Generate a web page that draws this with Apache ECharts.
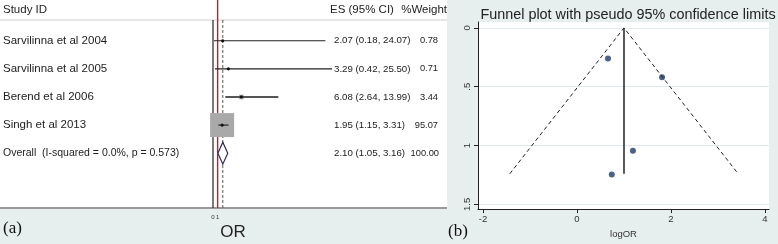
<!DOCTYPE html>
<html>
<head>
<meta charset="utf-8">
<script src="https://cdn.jsdelivr.net/npm/echarts@6/dist/echarts.min.js"></script>
<style>
  html, body { margin: 0; padding: 0; background: #e7efee; }
  #chart { width: 778px; height: 244px; }
</style>
</head>
<body>
<div id="chart"></div>
<script>
// forest plot (a)
const studies = ['Sarvilinna et al 2004', 'Sarvilinna et al 2005', 'Berend et al 2006', 'Singh et al 2013']
const studyES = [2.07, 3.29, 6.08, 1.95]
const studyLow = [0.18, 0.42, 2.64, 1.15]
const studyHigh = [24.07, 25.50, 13.99, 3.31]
const studyWeight = [0.78, 0.71, 3.44, 95.07]
const overallLabel = 'Overall  (I-squared = 0.0%, p = 0.573)'
const overallCI = [2.10, 1.05, 3.16]
const overallWeight = 100.00
const nullValue = 1
const forestTicks = [0, 1]

// funnel plot (b)
const funnelLogOR = [0.66, 1.81, 1.19, 0.74]
const funnelSE = [0.26, 0.42, 1.045, 1.245]
const pooledLogOR = 1.0
const funnelMaxSE = 1.24
const limitLow = -1.43
const limitHigh = 3.43
const funnelXTicks = [-2, 0, 2, 4]
const funnelYTicks = [0, 0.5, 1, 1.5]

const font = 'Arial, "Liberation Sans", sans-serif'
const serif = '"Liberation Serif", "Times New Roman", serif'
const fmt = (v) => v.toFixed(2)

const chart = echarts.init(document.getElementById('chart'))

const rowData = studies.map((s, i) => [i + 1, studyES[i], studyLow[i], studyHigh[i], studyWeight[i]])

const option = {
  animation: false,
  title: {
    text: 'Funnel plot with pseudo 95% confidence limits',
    left: 623,
    top: 3,
    textAlign: 'center',
    textStyle: { fontFamily: font, fontSize: 14.4, fontWeight: 'normal', color: '#222' },
  },
  graphic: [
    { type: 'rect', z: -10, shape: { x: 0, y: 0, width: 447, height: 208 }, style: { fill: '#fff' } },
    { type: 'line', z: 1, shape: { x1: 0, y1: 20, x2: 447, y2: 20 }, style: { stroke: '#cfcfcf', lineWidth: 1 } },
    { type: 'line', z: 1, shape: { x1: 0, y1: 208, x2: 447, y2: 208 }, style: { stroke: '#9a9a9a', lineWidth: 2 } },
    { type: 'text', style: { x: 3, y: 10, text: 'Study ID', font: '11.5px ' + font, fill: '#222', textVerticalAlign: 'middle' } },
    { type: 'text', style: { x: 330, y: 10, text: 'ES (95% CI)', font: '11.5px ' + font, fill: '#222', textVerticalAlign: 'middle' } },
    { type: 'text', style: { x: 447, y: 10, text: '%Weight', font: '11.5px ' + font, fill: '#222', textAlign: 'right', textVerticalAlign: 'middle' } },
    { type: 'text', style: { x: 233, y: 232, text: 'OR', font: '17px ' + font, fill: '#222', textAlign: 'center', textVerticalAlign: 'middle' } },
    { type: 'text', style: { x: 3, y: 229, text: '(a)', font: '17px ' + serif, fill: '#111', textVerticalAlign: 'middle' } },
    { type: 'text', style: { x: 448, y: 232, text: '(b)', font: '17px ' + serif, fill: '#111', textVerticalAlign: 'middle' } },
  ],
  grid: [
    { left: 213, top: 0, width: 233.5, height: 208 },
    { left: 478, right: 9, top: 22, bottom: 33, show: true, backgroundColor: '#fff', borderWidth: 0 },
  ],
  xAxis: [
    {
      gridIndex: 0,
      type: 'value',
      min: 0,
      max: 50,
      axisLine: { show: false },
      axisTick: { show: false },
      splitLine: { show: false },
      axisLabel: { customValues: forestTicks, fontSize: 6, margin: 6, color: '#333', fontFamily: font },
    },
    {
      gridIndex: 1,
      type: 'value',
      min: -2.106,
      max: 4.085,
      name: 'logOR',
      nameLocation: 'middle',
      nameGap: 18,
      nameTextStyle: { fontSize: 9.5, color: '#333', fontFamily: font },
      axisLine: { onZero: false, lineStyle: { color: '#222', width: 1 } },
      axisTick: { customValues: funnelXTicks, length: 4, lineStyle: { color: '#222' } },
      axisLabel: { customValues: funnelXTicks, fontSize: 9.5, margin: 5, color: '#333', fontFamily: font },
      splitLine: { show: false },
    },
  ],
  yAxis: [
    {
      gridIndex: 0,
      type: 'value',
      inverse: true,
      min: -0.45,
      max: 6.95,
      show: false,
    },
    {
      gridIndex: 1,
      type: 'value',
      inverse: true,
      min: -0.05,
      max: 1.54,
      axisLine: { show: true, onZero: false, lineStyle: { color: '#222', width: 1 } },
      axisTick: { show: true, customValues: funnelYTicks, length: 4, lineStyle: { color: '#222' } },
      axisLabel: {
        customValues: funnelYTicks,
        rotate: 90,
        fontSize: 9.5,
        margin: 6,
        color: '#333',
        fontFamily: font,
        formatter: (v) => (v === 0 || v === 1 ? String(v) : String(v).replace(/^0/, '')),
      },
      splitLine: { show: true, lineStyle: { color: '#dfe9ee', width: 1 } },
    },
  ],
  series: [
    // reference lines
    {
      type: 'line', xAxisIndex: 0, yAxisIndex: 0, symbol: 'none', silent: true,
      data: [[0, 0.26], [0, 6.95]],
      lineStyle: { color: '#222', width: 1.2 },
    },
    {
      type: 'line', xAxisIndex: 0, yAxisIndex: 0, symbol: 'none', silent: true,
      data: [[nullValue, -0.45], [nullValue, 6.95]],
      lineStyle: { color: '#b0202a', width: 1.3 },
    },
    {
      type: 'line', xAxisIndex: 0, yAxisIndex: 0, symbol: 'none', silent: true,
      data: [[overallCI[0], 0.26], [overallCI[0], 6.95]],
      lineStyle: { color: '#555', width: 1, type: [3, 2] },
    },
    // studies
    {
      type: 'custom', xAxisIndex: 0, yAxisIndex: 0, silent: true, z: 5,
      data: rowData,
      renderItem: (params, api) => {
        const i = params.dataIndex
        const y = api.value(0)
        const c = api.coord([api.value(1), y])
        const lo = api.coord([api.value(2), y])
        const hi = api.coord([api.value(3), y])
        const size = 24 * Math.sqrt(api.value(4) / 95.07)
        const heavy = i === 2
        return {
          type: 'group',
          children: [
            { type: 'rect', shape: { x: c[0] - size / 2, y: c[1] - size / 2, width: size, height: size }, style: { fill: '#a9a9a9' } },
            { type: 'line', shape: { x1: lo[0], y1: lo[1], x2: hi[0], y2: hi[1] }, style: { stroke: heavy ? '#555' : '#222', lineWidth: heavy ? 2 : 1.2 } },
            { type: 'circle', shape: { cx: c[0], cy: c[1], r: 1.6 }, style: { fill: '#111' } },
            { type: 'text', style: { x: 3, y: c[1], text: studies[i], font: '11.5px ' + font, fill: '#222', textVerticalAlign: 'middle' } },
            { type: 'text', style: { x: 334, y: c[1], text: `${fmt(studyES[i])} (${fmt(studyLow[i])}, ${fmt(studyHigh[i])})`, font: '9.7px ' + font, fill: '#222', textVerticalAlign: 'middle' } },
            { type: 'text', style: { x: 438, y: c[1], text: fmt(studyWeight[i]), font: '9.3px ' + font, fill: '#222', textAlign: 'right', textVerticalAlign: 'middle' } },
          ],
        }
      },
    },
    // overall diamond
    {
      type: 'custom', xAxisIndex: 0, yAxisIndex: 0, silent: true, z: 5,
      data: [[5, overallCI[0], overallCI[1], overallCI[2]]],
      renderItem: (params, api) => {
        const y = api.value(0)
        const m = api.coord([api.value(1), y - 0.39])
        const b = api.coord([api.value(1), y + 0.39])
        const l = api.coord([api.value(2), y])
        const r = api.coord([api.value(3), y])
        return {
          type: 'group',
          children: [
            { type: 'polygon', shape: { points: [l, m, r, b] }, style: { fill: '#fff', stroke: '#2b2b5c', lineWidth: 1.2 } },
            { type: 'text', style: { x: 3, y: l[1], text: overallLabel, font: '10.5px ' + font, fill: '#222', textVerticalAlign: 'middle' } },
            { type: 'text', style: { x: 334, y: l[1], text: `${fmt(overallCI[0])} (${fmt(overallCI[1])}, ${fmt(overallCI[2])})`, font: '9.7px ' + font, fill: '#222', textVerticalAlign: 'middle' } },
            { type: 'text', style: { x: 439, y: l[1], text: fmt(overallWeight), font: '9.3px ' + font, fill: '#222', textAlign: 'right', textVerticalAlign: 'middle' } },
          ],
        }
      },
    },
    // funnel limits
    {
      type: 'line', xAxisIndex: 1, yAxisIndex: 1, symbol: 'none', silent: true,
      data: [[limitLow, funnelMaxSE], [pooledLogOR, 0], [limitHigh, funnelMaxSE]],
      lineStyle: { color: '#222', width: 1, type: [4, 3] },
    },
    {
      type: 'line', xAxisIndex: 1, yAxisIndex: 1, symbol: 'none', silent: true,
      data: [[pooledLogOR, 0], [pooledLogOR, funnelMaxSE]],
      lineStyle: { color: '#222', width: 1.5 },
    },
    {
      type: 'scatter', xAxisIndex: 1, yAxisIndex: 1, silent: true,
      data: funnelLogOR.map((v, i) => [v, funnelSE[i]]),
      symbolSize: 6,
      itemStyle: { color: '#1d3a6a' },
    },
  ],
}

chart.setOption(option)
</script>
</body>
</html>
